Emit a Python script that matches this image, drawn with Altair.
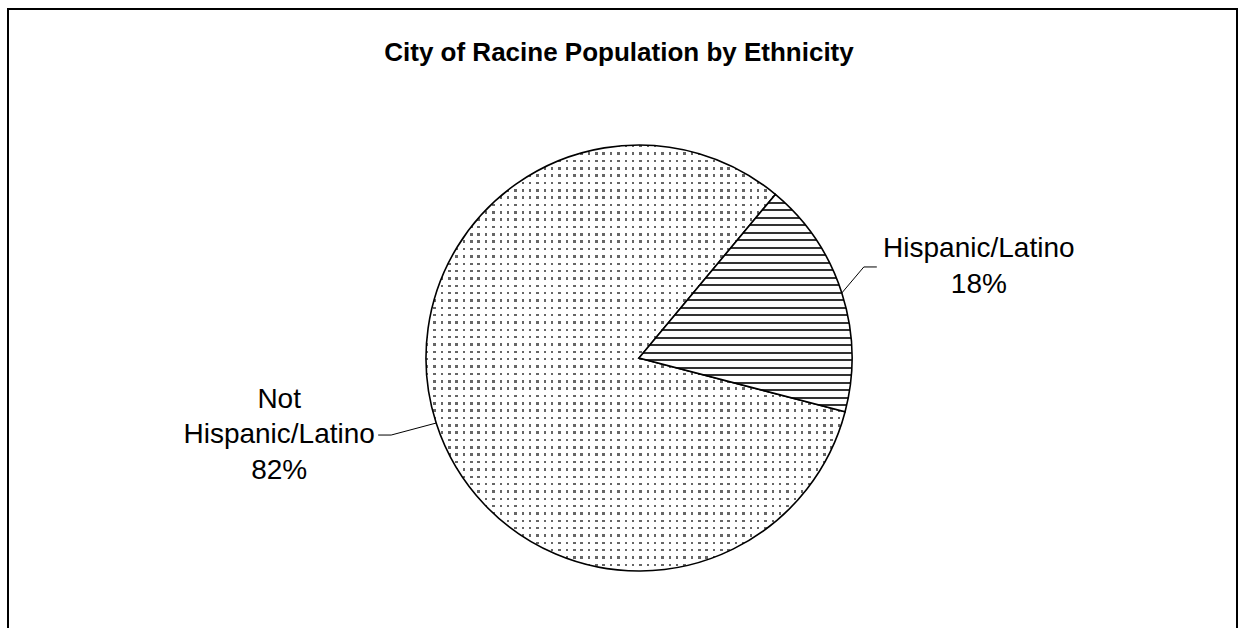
import math
import altair as alt
import pandas as pd

# ---- data ----
title_text = "City of Racine Population by Ethnicity"
categories = ["Hispanic/Latino", "Not Hispanic/Latino"]
label_lines = ["Hispanic/Latino", "Not\nHispanic/Latino"]
percents = [18, 82]
order = [0, 1]

df = pd.DataFrame({"category": categories, "label": label_lines, "pct": percents, "order": order})

# ---- layout / style ----
W, H = 1238, 628
CX, CY, R = 639, 358, 213
A0 = 0.695  # start angle of first slice (radians, clockwise from 12 o'clock)
FONT = "Liberation Sans"
LINE_H = 35.5


def stripe_gradient(n, frac, dark, light, vertical):
    stops = []
    for i in range(n):
        s = round(i / n, 5)
        e = round((i + frac) / n, 5)
        stops += [
            alt.GradientStop(color=light, offset=s),
            alt.GradientStop(color=dark, offset=s),
            alt.GradientStop(color=dark, offset=e),
            alt.GradientStop(color=light, offset=e),
        ]
    stops.append(alt.GradientStop(color=light, offset=1))
    if vertical:  # stripes run horizontally (gradient goes top->bottom)
        return alt.LinearGradient(gradient="linear", stops=stops, x1=0, x2=0, y1=0, y2=1)
    return alt.LinearGradient(gradient="linear", stops=stops, x1=0, x2=1, y1=0, y2=0)


hatch = stripe_gradient(29, 0.27, "#333333", "#ffffff", vertical=True)
dot_cols = stripe_gradient(57, 0.34, "#666666", "#ffffff", vertical=False)
dot_mask = stripe_gradient(58, 0.34, "rgba(255,255,255,0)", "#ffffff", vertical=True)

base = alt.Chart(df).transform_window(
    cum="sum(pct)", sort=[alt.SortField("order")], frame=[None, 0]
).transform_calculate(
    start="datum.cum - datum.pct",
    mid="datum.cum - datum.pct / 2",
)

theta_scale = alt.Scale(domain=[0, 100], range=[A0, A0 + 2 * math.pi])


def slice_layer(cat, fill, **kw):
    return base.transform_filter(alt.datum.category == cat).mark_arc(
        fill=fill, radius=R, **kw
    ).encode(
        theta=alt.Theta("start:Q", scale=theta_scale, stack=False),
        theta2="cum:Q",
        x=alt.value(CX),
        y=alt.value(CY),
    )


hisp = slice_layer(categories[0], hatch, stroke="black", strokeWidth=1.6)
not_cols = slice_layer(categories[1], dot_cols)
not_mask = slice_layer(categories[1], dot_mask, stroke="black", strokeWidth=1.6)

geo = base.transform_calculate(
    a=f"{A0} + datum.mid / 100 * 2 * PI",
).transform_calculate(
    ex=f"{CX} + {R} * sin(datum.a)",
    ey=f"{CY} - {R} * cos(datum.a)",
    side="sin(datum.a) >= 0 ? 1 : -1",
).transform_calculate(
    bx="datum.ex + (datum.side > 0 ? 22 : -45)",
    by="datum.ey + (datum.side > 0 ? -26 : 12)",
    lx="datum.ex + (datum.side > 0 ? 137 : -157)",
).transform_calculate(
    tx="datum.bx + datum.side * 13",
    full="datum.label + '\\n' + datum.pct + '%'",
).transform_calculate(
    ly=f"datum.by - (length(split(datum.full, '\\n')) - 1) * {LINE_H} / 2",
)

leader1 = geo.mark_rule(color="black", strokeWidth=1).encode(
    x=alt.X("ex:Q", scale=None, axis=None),
    y=alt.Y("ey:Q", scale=None, axis=None),
    x2="bx:Q",
    y2="by:Q",
)
leader2 = geo.mark_rule(color="black", strokeWidth=1).encode(
    x=alt.X("bx:Q", scale=None, axis=None),
    y=alt.Y("by:Q", scale=None, axis=None),
    x2="tx:Q",
    y2="by:Q",
)
labels = geo.mark_text(
    font=FONT, fontSize=28, lineBreak="\n", lineHeight=LINE_H,
    align="center", baseline="middle", color="black",
).encode(
    x=alt.X("lx:Q", scale=None, axis=None),
    y=alt.Y("ly:Q", scale=None, axis=None),
    text="full:N",
)

single = alt.Chart(pd.DataFrame({"t": [title_text]}))
title = single.mark_text(
    font=FONT, fontSize=26, fontWeight="bold", align="center", baseline="middle", color="black"
).encode(x=alt.value(619), y=alt.value(53), text="t:N")

frame = single.mark_rect(fill="transparent", stroke="black", strokeWidth=2).encode(
    x=alt.value(8), y=alt.value(9), x2=alt.value(1237), y2=alt.value(720)
)

chart = alt.layer(
    frame, not_cols, not_mask, hisp, leader1, leader2, labels, title
).properties(
    width=W, height=H, padding=0, autosize=alt.AutoSizeParams(type="none"), background="white"
).configure_view(strokeWidth=0)

chart.save("out.html", embed_options={"renderer": "svg", "actions": False})
